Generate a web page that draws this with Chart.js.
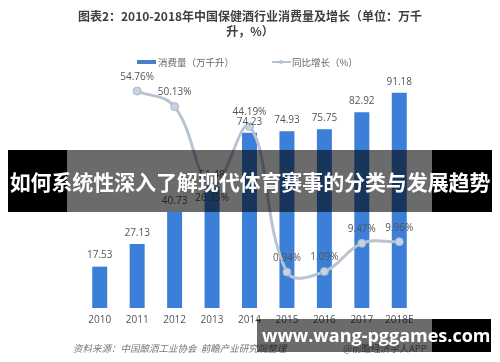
<!DOCTYPE html>
<html><head><meta charset="utf-8">
<script src="https://cdn.jsdelivr.net/npm/chart.js@4"></script>
<style>
html,body{margin:0;padding:0}
body{width:500px;height:362px;background:#fff;position:relative;overflow:hidden;font-family:'Noto Sans CJK SC','Noto Sans',sans-serif}
#c{position:absolute;left:0;top:0}
.abs{position:absolute;white-space:nowrap}
#title{left:0;width:500px;top:8px;text-align:center;font-size:12px;font-weight:bold;color:#3f3f3f;line-height:15px}
.leg{font-size:9.5px;color:#666;top:55px;line-height:14px}
#src{left:73px;top:341px;font-size:9.5px;font-style:italic;color:#777;line-height:14px}
#app{left:343px;top:341px;font-size:9.5px;color:#777;line-height:14px}
.ban{position:absolute}
</style></head><body>
<canvas id="c" width="500" height="362"></canvas>
<div id="title" class="abs">图表2：2010-2018年中国保健酒行业消费量及增长（单位：万千<br>升，%）</div>
<div class="abs" style="left:137px;top:60px;width:19px;height:4px;background:#4a7fc6"></div>
<div class="abs leg" style="left:158px">消费量（万千升）</div>
<div class="abs" style="left:272px;top:61px;width:19px;height:1.5px;background:#b8c2d0"></div>
<div class="abs" style="left:279px;top:59.5px;width:4px;height:4px;border-radius:50%;background:#b8c2d0"></div>
<div class="abs leg" style="left:292px">同比增长（%）</div>
<div id="src" class="abs">资料来源：中国酿酒工业协会&nbsp;&nbsp;前瞻产业研究院整理</div>
<div id="app" class="abs">@前瞻经济学人APP</div>

<div class="ban" style="left:8px;top:150px;width:59px;height:62px;background:#000"></div>
<div class="ban" style="left:67px;top:150px;width:365px;height:62px;background:rgba(0,0,0,0.58)"></div>
<div class="ban" style="left:432px;top:150px;width:60px;height:62px;background:#000"></div>
<div class="abs" style="left:8px;width:484px;top:150px;height:62px;line-height:62px;text-align:center;color:#fff;font-weight:bold;font-size:21px;letter-spacing:-0.1px">如何系统性深入了解现代体育赛事的分类与发展趋势</div>

<div class="ban" style="left:257px;top:319px;width:175px;height:33px;background:rgba(0,0,0,0.58)"></div>
<div class="ban" style="left:432px;top:319px;width:59px;height:33px;background:#000"></div>
<div class="abs" style="left:262px;width:222px;top:319px;height:33px;line-height:33px;text-align:center;color:#fff;font-weight:bold;font-size:18px;font-family:'Open Sans','DejaVu Sans',sans-serif">www.wang-pggames.com</div>

<script>
const categories = ['2010','2011','2012','2013','2014','2015','2016','2017','2018E'];
const consumption = [17.53,27.13,40.73,51.48,74.23,74.93,75.75,82.92,91.18];
const growth = [null,54.76,50.13,26.35,44.19,0.94,1.09,9.47,9.96];
const growthLabelBelow = [false,false,false,true,false,false,false,false,false];

const labelPlugin = {
  id:'vlabels',
  afterDatasetsDraw(chart){
    const ctx = chart.ctx;
    ctx.save();
    ctx.font = "10px 'Open Sans','Noto Sans',sans-serif";
    ctx.fillStyle = '#555';
    ctx.textAlign = 'center';
    ctx.textBaseline = 'middle';
    const bm = chart.getDatasetMeta(0);
    bm.data.forEach((el,i)=>{
      ctx.fillText(consumption[i].toFixed(2), el.x, el.y - 11);
    });
    const lm = chart.getDatasetMeta(1);
    lm.data.forEach((el,i)=>{
      if (growth[i] === null) return;
      const dy = growthLabelBelow[i] ? 12 : -14;
      ctx.fillText(growth[i].toFixed(2) + '%', el.x, el.y + dy);
    });
    ctx.restore();
  }
};

new Chart(document.getElementById('c'), {
  data:{
    labels: categories,
    datasets:[
      {type:'bar', label:'消费量（万千升）', data: consumption, backgroundColor:'#3b7fd9', yAxisID:'y', order:2,
       barPercentage:0.4, categoryPercentage:1.0},
      {type:'line', label:'同比增长（%）', data: growth, yAxisID:'y2', order:1,
       borderColor:'#b9c3d1', borderWidth:3, tension:0.4, spanGaps:false,
       pointRadius:4, pointBackgroundColor:'#c8d3e2', pointBorderColor:'#a9b5c6', pointBorderWidth:1}
    ]
  },
  options:{
    responsive:false,
    animation:false,
    devicePixelRatio:1,
    layout:{padding:{left:81, right:82, top:72, bottom:30}},
    plugins:{legend:{display:false}, tooltip:{enabled:false}},
    scales:{
      x:{grid:{display:false, drawTicks:false}, border:{display:false},
         ticks:{color:'#555', padding:6, font:{size:10, family:"'Open Sans','Noto Sans',sans-serif"}},
         afterFit(s){ s.height = 24; }},
      y:{display:false, min:0, max:100},
      y2:{display:false, min:-9.75, max:60.42}
    }
  },
  plugins:[labelPlugin]
});
</script>
</body></html>
